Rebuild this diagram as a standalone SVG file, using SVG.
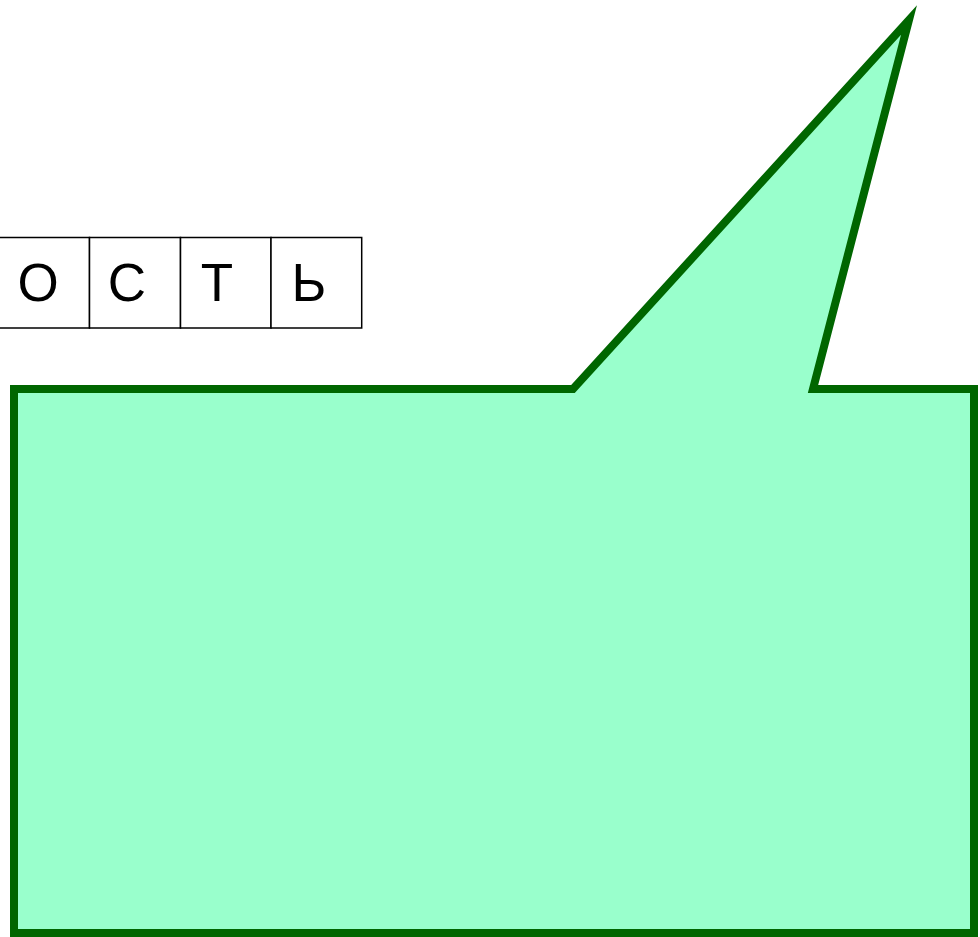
<svg xmlns="http://www.w3.org/2000/svg" width="980" height="937" viewBox="0 0 980 937">
<style>
.cell{fill:#ffffff;stroke:#000000;stroke-width:1.5}
.ch{font-family:"Liberation Sans",Arial,sans-serif;font-size:53px;fill:#000000;text-anchor:middle}
.callout{fill:#99ffcc;stroke:#006600;stroke-width:8;stroke-linejoin:miter;stroke-miterlimit:10}
</style>
<g id="word">
<rect class="cell" x="-1.2" y="237.5" width="90.7" height="90.5"/>
<rect class="cell" x="89.5" y="237.5" width="91" height="90.5"/>
<rect class="cell" x="180.5" y="237.5" width="90.5" height="90.5"/>
<rect class="cell" x="271" y="237.5" width="90.7" height="90.5"/>
<text class="ch" x="38" y="301">О</text>
<text class="ch" x="127" y="301">С</text>
<text class="ch" x="217" y="301">Т</text>
<text class="ch" x="309" y="301">Ь</text>
</g>
<g id="callout">
<polygon class="callout" points="14,389 573,389 909,20 813,389 974,389 974,933 14,933"/>
</g>
</svg>
